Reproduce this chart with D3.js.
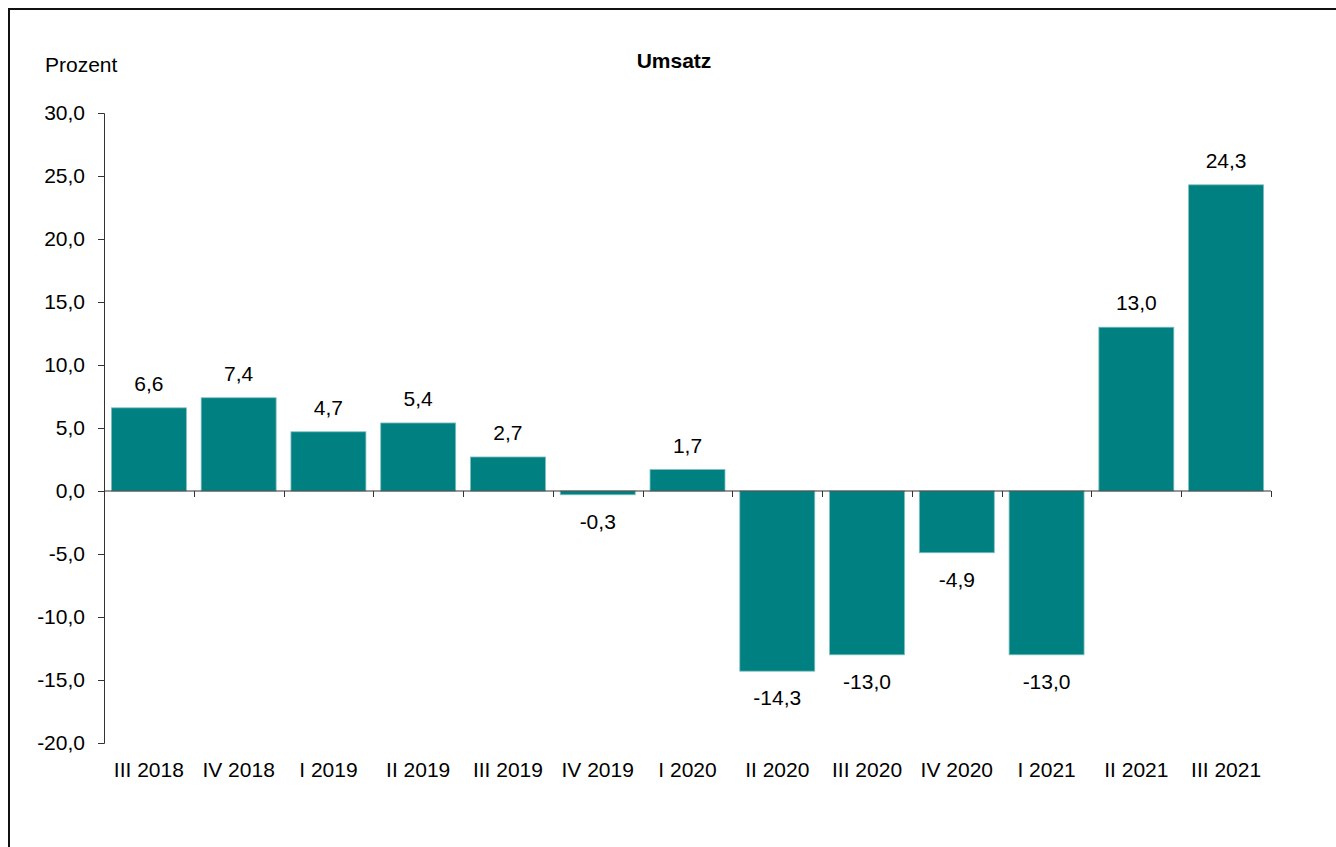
<!DOCTYPE html>
<html>
<head>
<meta charset="utf-8">
<script src="https://cdn.jsdelivr.net/npm/d3@7"></script>
<style>
  body { margin: 0; background: #fff; }
  svg { display: block; font-family: "Liberation Sans", Arial, sans-serif; }
</style>
</head>
<body>
<svg></svg>
<script>
// Quartale und Veränderung des Umsatzes in Prozent
const quarters = ["III 2018", "IV 2018", "I 2019", "II 2019", "III 2019", "IV 2019", "I 2020",
    "II 2020", "III 2020", "IV 2020", "I 2021", "II 2021", "III 2021"]
const umsatz = [6.6, 7.4, 4.7, 5.4, 2.7, -0.3, 1.7, -14.3, -13.0, -4.9, -13.0, 13.0, 24.3]
const yTicks = [30, 25, 20, 15, 10, 5, 0, -5, -10, -15, -20]

const width = 1336, height = 847
const margin = { top: 113, right: 65, bottom: 104, left: 104 }
const fontSize = 21

const fmt = v => d3.format(".1f")(v).replace(".", ",").replace("−", "-")

const svg = d3.select('svg')
    .attr("width", width)
    .attr("height", height)

// Rahmen (rechts und unten ausserhalb des Bildes)
svg.append("rect")
    .attr("x", 9).attr("y", 9)
    .attr("width", width + 20).attr("height", height + 20)
    .attr("fill", "none")
    .attr("stroke", "#111")
    .attr("stroke-width", 2)

svg.append("text")
    .attr("x", 674).attr("y", 68)
    .attr("text-anchor", "middle")
    .attr("font-size", fontSize).attr("font-weight", "bold")
    .text("Umsatz")

svg.append("text")
    .attr("x", 45).attr("y", 72)
    .attr("font-size", fontSize)
    .text("Prozent")

const x = d3.scaleBand()
    .domain(quarters)
    .range([margin.left, width - margin.right])
    .paddingInner(0.165)
    .paddingOuter(0.0825)

const y = d3.scaleLinear()
    .domain([-20, 30])
    .range([height - margin.bottom, margin.top])

// Balken
svg.append("g").selectAll("rect")
    .data(umsatz)
    .join("rect")
    .attr("x", (_, i) => x(quarters[i]))
    .attr("y", d => y(Math.max(0, d)))
    .attr("width", x.bandwidth())
    .attr("height", d => Math.abs(y(d) - y(0)))
    .attr("fill", "#008080")
    .attr("stroke", "#7fbfbf")
    .attr("stroke-width", 0.8)

// Datenbeschriftungen
svg.append("g").selectAll("text")
    .data(umsatz)
    .join("text")
    .attr("x", (_, i) => x(quarters[i]) + x.bandwidth() / 2)
    .attr("y", d => d >= 0 ? y(d) - 17 : y(d) + 34)
    .attr("text-anchor", "middle")
    .attr("font-size", fontSize)
    .text(d => fmt(d))

// y-Achse
const yAxis = svg.append("g")
    .attr("transform", `translate(${margin.left},0)`)
    .call(d3.axisLeft(y).tickValues(yTicks).tickSize(6).tickPadding(13).tickFormat(fmt))
yAxis.selectAll("path, line").attr("stroke", "#333")
yAxis.selectAll("text").attr("font-size", fontSize).attr("fill", "#000")
    .attr("font-family", "Liberation Sans, Arial, sans-serif")

// x-Achse an der Nulllinie, Striche an den Kategoriegrenzen
const step = x.step()
const bounds = d3.range(quarters.length + 1).map(i => margin.left + i * step)
const xAxis = svg.append("g")
xAxis.append("line")
    .attr("x1", margin.left).attr("x2", width - margin.right)
    .attr("y1", y(0)).attr("y2", y(0))
    .attr("stroke", "#333")
xAxis.selectAll(".tick")
    .data(bounds.slice(1))
    .join("line")
    .attr("x1", d => Math.round(d) + 0.5).attr("x2", d => Math.round(d) + 0.5)
    .attr("y1", y(0)).attr("y2", y(0) + 6)
    .attr("stroke", "#333")

// Kategorienbeschriftung unten
svg.append("g").selectAll("text")
    .data(quarters)
    .join("text")
    .attr("x", d => x(d) + x.bandwidth() / 2)
    .attr("y", y(-20) + 34)
    .attr("text-anchor", "middle")
    .attr("font-size", fontSize)
    .text(d => d)
</script>
</body>
</html>
